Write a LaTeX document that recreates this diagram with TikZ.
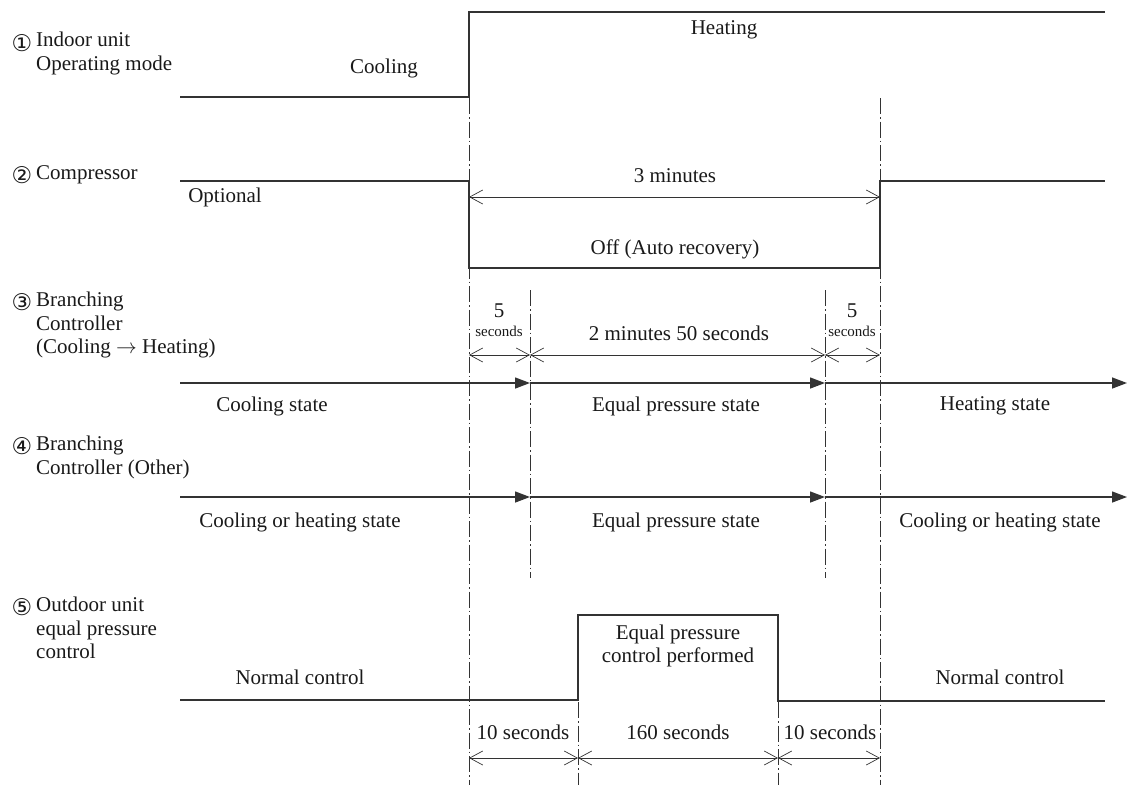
\documentclass[tikz,border=0pt]{standalone}
\usepackage{fontspec}
\setmainfont{Liberation Serif}
\newfontfamily\circfont{DejaVu Sans}
\usetikzlibrary{arrows.meta}

\tikzset{
  sig/.style={line width=1.4pt, draw=black!80},
  flow/.style={sig, -{Triangle[length=15pt,width=11pt]}},
  guide/.style={line width=1pt, draw=black!80, dash pattern=on 16pt off 3pt on 1.5pt off 3pt},
  dim/.style={line width=0.7pt, draw=black!80,
    {Straight Barb[length=13pt,width=14pt]}-{Straight Barb[length=13pt,width=14pt]}},
  txt/.style={font=\fontsize{21}{23.5}\selectfont, inner sep=0pt, text=black!90},
  lbl/.style={txt, align=left, anchor=west},
  small/.style={font=\fontsize{15}{17}\selectfont, inner sep=0pt, text=black!90},
  num/.style={font=\circfont\fontsize{23}{23}\selectfont, inner sep=0pt, text=black!90},
}

\begin{document}
\begin{tikzpicture}[x=1pt,y=-1pt]
\useasboundingbox (0,0) rectangle (1127,785);

% ---- row labels
\node[num] (n1) at (22,43) {①};
\node[lbl, anchor=north west] (l1) at (36,32) {Indoor unit\\Operating mode};
\node[num] (n2) at (22,175) {②};
\node[lbl] (l2) at (36,175) {Compressor};
\node[num] (n3) at (22,302) {③};
\node[lbl, anchor=north west] (l3) at (36,292) {Branching\\Controller\\(Cooling $\rightarrow$ Heating)};
\node[num] (n4) at (22,446) {④};
\node[lbl, anchor=north west] (l4) at (36,436) {Branching\\Controller (Other)};
\node[num] (n5) at (22,607) {⑤};
\node[lbl, anchor=north west] (l5) at (36,597) {Outdoor unit\\equal pressure\\control};

% ---- guide lines (dash-dot)
\draw[guide] (469,98) -- (469,785);
\draw[guide] (880,98) -- (880,785);
\draw[guide] (530,290) -- (530,578);
\draw[guide] (825,290) -- (825,578);
\draw[guide] (578,702) -- (578,785);
\draw[guide] (778,702) -- (778,785);

% ---- 1 indoor unit operating mode
\coordinate (a1) at (180,97);
\coordinate (a2) at (469,97);
\coordinate (a3) at (469,12);
\coordinate (a4) at (1105,12);
\draw[sig] (a1) -- (a2) -- (a3) -- (a4);
\node[txt] (cool) at (384,68) {Cooling};
\node[txt] (heat) at (724,30) {Heating};

% ---- 2 compressor
\coordinate (b1) at (180,181);
\coordinate (b2) at (469,181);
\coordinate (b3) at (469,268);
\coordinate (b4) at (880,268);
\coordinate (b5) at (880,181);
\coordinate (b6) at (1105,181);
\draw[sig] (b1) -- (b2) -- (b3) -- (b4) -- (b5) -- (b6);
\node[txt] (opt) at (225,197) {Optional};
\coordinate (d1a) at (469,197);
\coordinate (d1b) at (880,197);
\draw[dim] (d1a) -- (d1b);
\node[txt] (three) at (675,176) {3 minutes};
\node[txt] (off) at (675,249) {Off (Auto recovery)};

% ---- 3 branching controller (cooling -> heating)
\coordinate (c1) at (180,383);
\coordinate (c2) at (530,383);
\coordinate (c3) at (825,383);
\coordinate (c4) at (1127,383);
\draw[flow] (c1) -- (c2);
\draw[flow] (c2) -- (c3);
\draw[flow] (c3) -- (c4);
\coordinate (d2a) at (469,355);
\coordinate (d2b) at (530,355);
\coordinate (d2c) at (825,355);
\coordinate (d2d) at (880,355);
\draw[dim] (d2a) -- (d2b);
\draw[dim] (d2b) -- (d2c);
\draw[dim] (d2c) -- (d2d);
\node[txt] (five1) at (499,311) {5};
\node[small] (sec1) at (499,331) {seconds};
\node[txt] (twom) at (679,333) {2 minutes 50 seconds};
\node[txt] (five2) at (852,311) {5};
\node[small] (sec2) at (852,331) {seconds};
\node[txt] (cs) at (272,406) {Cooling state};
\node[txt] (eq1) at (676,406) {Equal pressure state};
\node[txt] (hs) at (995,406) {Heating state};

% ---- 4 branching controller (other)
\coordinate (e1) at (180,497);
\coordinate (e2) at (530,497);
\coordinate (e3) at (825,497);
\coordinate (e4) at (1127,497);
\draw[flow] (e1) -- (e2);
\draw[flow] (e2) -- (e3);
\draw[flow] (e3) -- (e4);
\node[txt] (cohs1) at (300,522) {Cooling or heating state};
\node[txt] (eq2) at (676,522) {Equal pressure state};
\node[txt] (cohs2) at (1000,522) {Cooling or heating state};

% ---- 5 outdoor unit equal pressure control
\coordinate (f1) at (180,700);
\coordinate (f2) at (578,700);
\coordinate (f3) at (578,615);
\coordinate (f4) at (778,615);
\coordinate (f5) at (778,701);
\coordinate (f6) at (1105,701);
\draw[sig] (f1) -- (f2) -- (f3) -- (f4) -- (f5) -- (f6);
\node[txt] (nc1) at (300,677) {Normal control};
\node[txt, align=center] (epc) at (678,646) {Equal pressure\\control performed};
\node[txt] (nc2) at (1000,677) {Normal control};
\coordinate (g1) at (469,758);
\coordinate (g2) at (578,758);
\coordinate (g3) at (778,758);
\coordinate (g4) at (880,758);
\draw[dim] (g1) -- (g2);
\draw[dim] (g2) -- (g3);
\draw[dim] (g3) -- (g4);
\node[txt] (ten1) at (523,732) {10 seconds};
\node[txt] (s160) at (678,732) {160 seconds};
\node[txt] (ten2) at (830,732) {10 seconds};
\end{tikzpicture}
\end{document}
